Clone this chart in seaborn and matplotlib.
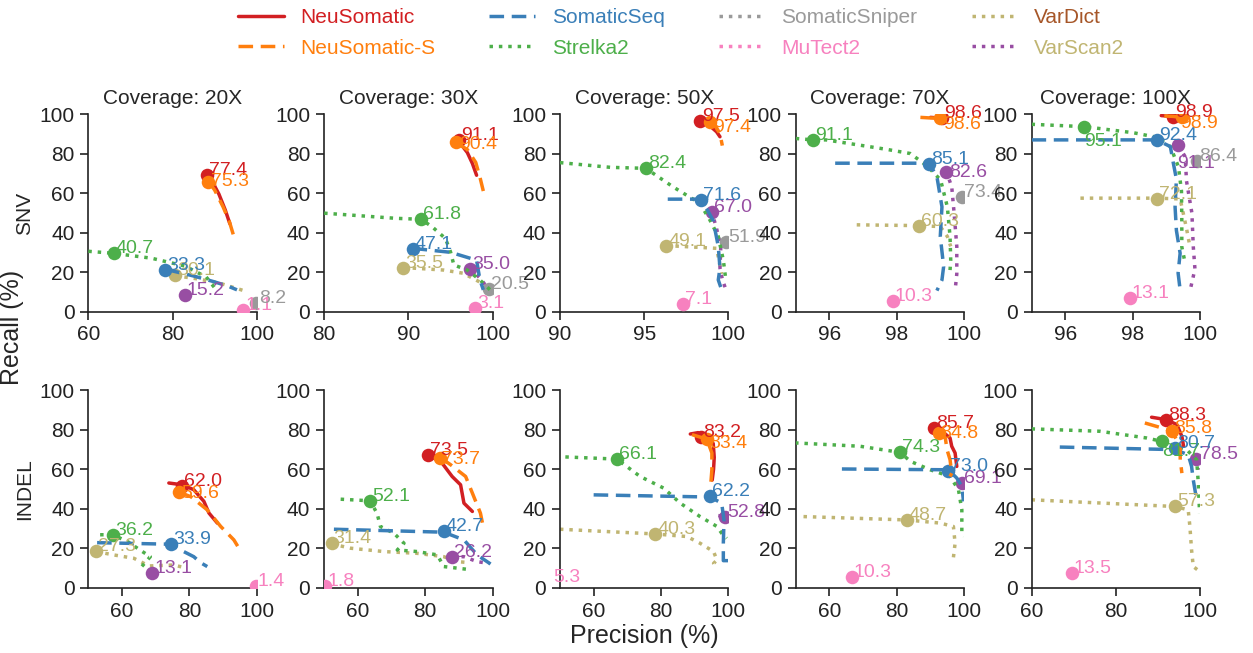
import matplotlib
matplotlib.use("Agg")
import matplotlib.pyplot as plt
from matplotlib.lines import Line2D
import pandas as pd
import seaborn as sns

# ---------------------------------------------------------------- tools
TOOLS = ["NeuSomatic", "NeuSomatic-S", "SomaticSeq", "Strelka2",
         "SomaticSniper", "MuTect2", "VarDict", "VarScan2"]
LINE_COLORS = ["#d21f22", "#ff7f0e", "#3a7fb8", "#4daf4a",
               "#9a9a9a", "#f781bf", "#c0b572", "#984ea3"]
LEGEND_TEXT_COLORS = ["#d21f22", "#ff7f0e", "#3a7fb8", "#4daf4a",
                      "#9a9a9a", "#f781bf", "#a65628", "#c0b572"]
LINE_STYLES = ["solid", "dashed", "dashed", "dotted",
               "dotted", "dotted", "dotted", "dotted"]
DRAW_ORDER = ["VarDict", "VarScan2", "MuTect2", "SomaticSniper",
              "Strelka2", "SomaticSeq", "NeuSomatic", "NeuSomatic-S"]

COVERAGES = ["20X", "30X", "50X", "70X", "100X"]
ROW_NAMES = ["SNV", "INDEL"]

# x ranges and ticks per panel
SNV_XLIM = [(60, 100), (80, 100), (90, 100), (95, 100), (95, 100)]
SNV_XTICKS = [[60, 80, 100], [80, 90, 100], [90, 95, 100], [96, 98, 100], [96, 98, 100]]
INDEL_XLIM = [(50, 100), (50, 100), (50, 100), (50, 100), (60, 100)]
INDEL_XTICKS = [[60, 80, 100]] * 5
YTICKS = [0, 20, 40, 60, 80, 100]

# ------------------------------------------- precision/recall curves (%)
SNV_20X = {
    "NeuSomatic": [(88.2, 69.0), (89.5, 65.5), (91.0, 59.5), (92.5, 51.5), (93.6, 44.5)],
    "NeuSomatic-S": [(88.5, 66.0), (90.0, 61.5), (92.0, 53.0), (93.5, 45.5), (94.7, 37.0)],
    "SomaticSeq": [(78.3, 21.4), (85.0, 18.0), (90.0, 15.0), (93.0, 13.0), (95.3, 11.0)],
    "Strelka2": [(60.0, 30.5), (66.0, 29.5), (75.0, 27.0), (83.0, 23.0), (88.0, 17.5), (90.0, 12.0)],
    "VarDict": [(80.6, 18.2), (86.0, 16.5), (91.0, 14.5), (94.0, 12.5), (96.9, 10.6)],
}
SNV_30X = {
    "NeuSomatic": [(96.0, 86.0), (97.0, 80.5), (97.6, 75.0), (98.1, 69.0)],
    "NeuSomatic-S": [(95.7, 85.5), (97.0, 82.0), (98.0, 75.5), (98.5, 68.0), (98.9, 61.0)],
    "Strelka2": [(80.0, 49.8), (88.5, 47.2), (91.5, 46.7), (92.8, 43.0), (94.4, 37.0), (95.0, 30.3),
                 (95.4, 23.6), (97.0, 21.0), (98.5, 16.0), (99.7, 11.0)],
    "SomaticSeq": [(90.5, 32.0), (95.0, 30.0), (98.1, 26.0), (98.5, 16.0), (98.9, 11.0)],
    "VarDict": [(89.4, 22.3), (94.2, 21.0), (96.5, 19.4), (98.9, 14.0), (99.7, 11.0)],
    "VarScan2": [(97.3, 21.9), (98.5, 17.0), (99.4, 12.0)],
}
SNV_50X = {
    "NeuSomatic": [(98.3, 96.6), (98.9, 94.0), (99.3, 91.0), (99.5, 88.5)],
    "NeuSomatic-S": [(98.9, 96.1), (99.3, 93.0), (99.5, 90.0), (99.64, 84.0)],
    "Strelka2": [(90.0, 75.4), (93.0, 73.0), (95.1, 72.5), (96.7, 63.2), (98.3, 54.8), (98.9, 46.4),
                 (99.4, 38.0), (99.7, 26.0), (99.85, 16.0)],
    "SomaticSeq": [(96.4, 56.9), (98.4, 56.9), (99.1, 46.0), (99.4, 33.0), (99.5, 22.0), (99.4, 16.0),
                   (99.6, 11.0)],
    "VarScan2": [(99.0, 51.1), (99.3, 42.0), (99.55, 33.0), (99.5, 22.0), (99.65, 16.0), (99.9, 10.0)],
    "VarDict": [(96.3, 33.4), (99.3, 32.0), (99.6, 19.0)],
}
SNV_70X = {
    "NeuSomatic": [(99.0, 98.3), (99.34, 97.9), (99.5, 97.6)],
    "NeuSomatic-S": [(98.7, 98.3), (99.0, 98.0), (99.3, 97.9), (99.4, 96.5)],
    "Strelka2": [(95.0, 87.6), (95.52, 86.9), (95.9, 86.9), (97.7, 82.1), (98.4, 80.0), (98.9, 73.7),
                 (99.3, 66.6), (99.5, 53.0), (99.58, 38.0), (99.6, 26.0), (99.58, 21.0)],
    "SomaticSeq": [(96.17, 75.1), (98.96, 75.1), (99.19, 68.3), (99.34, 53.0), (99.29, 38.0),
                   (99.39, 22.8), (99.34, 16.0), (99.19, 10.6)],
    "VarScan2": [(99.46, 71.3), (99.63, 63.2), (99.7, 50.0), (99.78, 33.0), (99.78, 19.0), (99.73, 10.6)],
    "VarDict": [(96.81, 43.9), (98.67, 43.5), (99.29, 43.0), (99.5, 38.0), (99.6, 33.0)],
}
SNV_100X = {
    "NeuSomatic": [(98.85, 99.2), (99.2, 98.7)],
    "NeuSomatic-S": [(98.94, 99.0), (99.2, 98.8), (99.46, 98.3)],
    "Strelka2": [(95.0, 94.8), (96.57, 93.6), (98.03, 90.5), (98.72, 88.2), (99.12, 83.5), (99.36, 73.3),
                 (99.45, 61.0), (99.46, 46.4), (99.46, 32.7), (99.56, 24.5)],
    "SomaticSeq": [(95.0, 86.9), (98.72, 86.9), (99.12, 83.5), (99.21, 75.0), (99.3, 67.0), (99.26, 53.0),
                   (99.3, 41.0), (99.41, 29.5), (99.35, 19.5), (99.41, 11.0)],
    "VarScan2": [(99.36, 84.0), (99.56, 78.4), (99.6, 66.0), (99.76, 49.8), (99.8, 33.0), (99.85, 21.5),
                 (99.71, 11.0)],
    "VarDict": [(96.45, 57.4), (98.72, 57.4), (99.41, 57.0), (99.5, 50.0), (99.6, 42.0), (99.7, 33.0)],
}
INDEL_20X = {
    "NeuSomatic": [(73.9, 53.0), (77.86, 52.1), (81.3, 49.6), (84.3, 43.7), (85.8, 37.8), (88.3, 32.7)],
    "NeuSomatic-S": [(76.9, 48.4), (80.5, 46.0), (85.3, 39.4), (89.3, 31.0), (93.2, 24.2), (94.7, 20.0)],
    "Strelka2": [(53.5, 26.8), (57.3, 26.8), (62.0, 23.0), (65.4, 19.0), (68.4, 15.7), (65.4, 9.8)],
    "SomaticSeq": [(52.6, 22.8), (74.6, 22.0), (78.3, 18.3), (81.3, 15.7), (83.3, 12.7), (85.3, 10.7)],
    "VarDict": [(52.3, 18.3), (57.5, 16.6), (63.5, 14.9), (66.4, 12.4), (68.0, 11.0), (75.4, 11.5),
                (79.3, 9.8)],
}
INDEL_30X = {
    "NeuSomatic": [(80.9, 67.0), (84.6, 64.0), (88.0, 56.3), (90.5, 52.1), (91.5, 42.8), (94.0, 38.6)],
    "NeuSomatic-S": [(84.4, 66.0), (87.5, 62.3), (92.0, 56.3), (94.0, 47.9), (96.4, 37.7), (97.4, 29.3)],
    "Strelka2": [(54.9, 44.8), (63.6, 44.0), (65.7, 37.7), (66.7, 31.0), (70.7, 27.6), (73.7, 22.5),
                 (71.7, 19.1), (77.6, 18.3), (83.6, 16.6), (85.5, 10.7), (92.5, 9.3)],
    "SomaticSeq": [(52.9, 29.6), (85.5, 28.1), (91.5, 24.2), (95.4, 16.6), (99.4, 12.0)],
    "VarDict": [(52.2, 22.2), (57.8, 20.0), (67.7, 18.3), (77.6, 17.4), (85.5, 15.7), (89.5, 13.2),
                (93.0, 12.7)],
    "VarScan2": [(88.0, 15.7), (91.5, 15.7), (95.4, 13.2), (98.9, 12.3)],
}
INDEL_50X = {
    "NeuSomatic": [(88.7, 77.8), (91.0, 78.5), (93.5, 77.0), (95.5, 73.0), (95.8, 66.0), (95.6, 60.0),
                   (95.2, 54.5)],
    "NeuSomatic-S": [(89.2, 77.5), (93.6, 75.2), (95.1, 68.2), (95.1, 59.7), (94.8, 53.0)],
    "Strelka2": [(51.6, 66.2), (66.9, 65.1), (73.8, 56.3), (80.8, 50.4), (85.7, 42.8), (91.6, 36.0),
                 (96.6, 31.0), (98.0, 27.6), (99.5, 25.0)],
    "SomaticSeq": [(60.0, 47.0), (94.6, 45.9), (98.0, 42.8), (98.7, 34.3), (98.5, 22.5), (98.5, 17.4),
                   (98.5, 13.7), (100.0, 13.7)],
    "VarScan2": [(97.0, 36.5), (99.0, 36.0)],
    "VarDict": [(50.0, 29.6), (78.3, 27.2), (87.7, 25.9), (91.6, 22.5), (95.6, 18.3), (96.6, 14.0),
                (95.6, 12.3), (96.0, 11.0)],
}
INDEL_70X = {
    "NeuSomatic": [(91.1, 80.9), (93.4, 79.2), (95.8, 75.8), (96.3, 71.6), (97.3, 68.2), (97.8, 61.4)],
    "NeuSomatic-S": [(92.4, 78.4), (94.4, 75.8), (94.9, 69.9), (95.8, 64.8), (96.3, 58.0), (95.8, 56.3)],
    "Strelka2": [(49.8, 73.3), (69.1, 71.6), (81.0, 68.5), (84.0, 64.0), (89.9, 59.7), (95.8, 56.3),
                 (98.3, 49.6), (99.3, 39.4), (99.3, 27.6), (100.0, 26.0)],
    "SomaticSeq": [(63.7, 60.1), (95.3, 59.7), (97.8, 55.5), (99.3, 51.3), (99.8, 43.7)],
    "VarScan2": [(99.3, 53.0), (99.8, 51.0)],
    "VarDict": [(52.3, 36.0), (83.0, 34.3), (92.9, 32.7), (96.8, 31.0), (97.3, 22.5), (96.6, 12.4)],
}
INDEL_100X = {
    "NeuSomatic": [(88.5, 86.3), (91.9, 85.1), (94.5, 82.6), (95.7, 76.6), (96.1, 71.6)],
    "NeuSomatic-S": [(86.9, 83.4), (93.3, 79.4), (95.3, 71.6), (95.3, 64.8), (95.7, 58.0)],
    "Strelka2": [(60.0, 80.4), (76.2, 79.2), (87.3, 75.8), (90.9, 74.1), (96.8, 69.9), (99.2, 64.8),
                 (99.6, 53.0), (99.9, 37.7)],
    "SomaticSeq": [(66.7, 71.2), (94.1, 69.9), (97.2, 67.3), (98.0, 61.4), (98.4, 54.6), (99.2, 44.5)],
    "VarScan2": [(99.1, 65.1), (99.6, 59.7)],
    "VarDict": [(60.0, 44.5), (94.1, 41.1), (97.2, 39.4), (97.6, 31.0), (98.0, 19.1), (98.4, 10.7),
                (100.0, 8.1)],
}

# ------------------- operating points: (precision %, F1 %) of each caller
SNV_20X_F1 = {"NeuSomatic": (88.2, 77.4), "NeuSomatic-S": (88.5, 75.3), "SomaticSeq": (78.3, 33.3),
              "Strelka2": (66.0, 40.7), "VarDict": (80.6, 30.1), "VarScan2": (82.9, 15.2),
              "SomaticSniper": (99.7, 8.2), "MuTect2": (96.8, 1.1)}
SNV_30X_F1 = {"NeuSomatic": (96.0, 91.1), "NeuSomatic-S": (95.7, 90.4), "SomaticSeq": (90.5, 47.1),
              "Strelka2": (91.5, 61.8), "VarDict": (89.4, 35.5), "VarScan2": (97.3, 35.0),
              "SomaticSniper": (99.6, 20.5), "MuTect2": (97.9, 3.1)}
SNV_50X_F1 = {"NeuSomatic": (98.3, 97.5), "NeuSomatic-S": (98.9, 97.4), "SomaticSeq": (98.4, 71.6),
              "Strelka2": (95.1, 82.4), "VarDict": (96.3, 49.1), "VarScan2": (99.0, 67.0),
              "SomaticSniper": (99.85, 51.9), "MuTect2": (97.3, 7.1)}
SNV_70X_F1 = {"NeuSomatic": (99.34, 98.6), "NeuSomatic-S": (99.29, 98.6), "SomaticSeq": (98.96, 85.1),
              "Strelka2": (95.52, 91.1), "VarDict": (98.67, 60.3), "VarScan2": (99.46, 82.6),
              "SomaticSniper": (99.93, 73.4), "MuTect2": (97.88, 10.3)}
SNV_100X_F1 = {"NeuSomatic": (99.2, 98.9), "NeuSomatic-S": (99.46, 98.9), "SomaticSeq": (98.72, 92.4),
               "Strelka2": (96.57, 95.1), "VarDict": (98.72, 72.1), "VarScan2": (99.36, 91.1),
               "SomaticSniper": (99.91, 86.4), "MuTect2": (97.91, 13.1)}
INDEL_20X_F1 = {"NeuSomatic": (77.86, 62.0), "NeuSomatic-S": (76.9, 59.6), "SomaticSeq": (74.6, 33.9),
                "Strelka2": (57.3, 36.2), "VarDict": (52.3, 27.3), "VarScan2": (68.9, 13.1),
                "MuTect2": (99.7, 1.4)}
INDEL_30X_F1 = {"NeuSomatic": (80.9, 73.5), "NeuSomatic-S": (84.4, 73.7), "SomaticSeq": (85.5, 42.7),
                "Strelka2": (63.6, 52.1), "VarDict": (52.2, 31.4), "VarScan2": (88.0, 26.2),
                "MuTect2": (50.4, 1.8)}
INDEL_50X_F1 = {"NeuSomatic": (91.8, 83.2), "NeuSomatic-S": (93.6, 83.4), "SomaticSeq": (94.6, 62.2),
                "Strelka2": (66.9, 66.1), "VarDict": (78.3, 40.3), "VarScan2": (99.0, 52.8),
                "MuTect2": (47.5, 5.3)}
INDEL_70X_F1 = {"NeuSomatic": (91.1, 85.7), "NeuSomatic-S": (92.4, 84.8), "SomaticSeq": (95.3, 73.0),
                "Strelka2": (81.0, 74.3), "VarDict": (83.0, 48.7), "VarScan2": (99.3, 69.1),
                "MuTect2": (66.6, 10.3)}
INDEL_100X_F1 = {"NeuSomatic": (91.9, 88.3), "NeuSomatic-S": (93.3, 85.8), "SomaticSeq": (94.1, 80.7),
                 "Strelka2": (90.9, 81.7), "VarDict": (94.1, 57.3), "VarScan2": (99.1, 78.5),
                 "MuTect2": (69.5, 13.5)}

CURVES = [[SNV_20X, SNV_30X, SNV_50X, SNV_70X, SNV_100X],
          [INDEL_20X, INDEL_30X, INDEL_50X, INDEL_70X, INDEL_100X]]
POINTS = [[SNV_20X_F1, SNV_30X_F1, SNV_50X_F1, SNV_70X_F1, SNV_100X_F1],
          [INDEL_20X_F1, INDEL_30X_F1, INDEL_50X_F1, INDEL_70X_F1, INDEL_100X_F1]]

# label nudges in pixels (dx, dy, vertical alignment) where labels would collide
LABEL_NUDGE = {
    (0, 0, "NeuSomatic-S"): (3, -4, "baseline"),
    (0, 1, "NeuSomatic-S"): (3, -7, "baseline"),
    (0, 2, "NeuSomatic-S"): (3, -10, "baseline"),
    (0, 3, "NeuSomatic-S"): (3, -11, "baseline"),
    (0, 3, "VarScan2"): (3, -5, "baseline"),
    (0, 4, "NeuSomatic-S"): (-2, -11, "baseline"),
    (0, 4, "Strelka2"): (0, -6, "top"),
    (0, 4, "VarScan2"): (-1, -10, "top"),
    (0, 0, "SomaticSniper"): (4, 0, "baseline"),
    (1, 0, "NeuSomatic-S"): (2, -6, "baseline"),
    (1, 1, "NeuSomatic-S"): (2, -6, "baseline"),
    (1, 2, "NeuSomatic-S"): (2, -9, "baseline"),
    (1, 3, "NeuSomatic-S"): (2, -5, "baseline"),
    (1, 4, "NeuSomatic-S"): (2, -2, "baseline"),
    (1, 4, "Strelka2"): (0, -2, "top"),
    (1, 4, "VarScan2"): (4, 0, "baseline"),
}

# ---------------------------------------------------------------- style
sns.set_theme(style="ticks")
plt.rcParams["font.family"] = ["Liberation Sans", "DejaVu Sans"]
plt.rcParams["axes.edgecolor"] = "#222222"
plt.rcParams["xtick.color"] = "#222222"
plt.rcParams["ytick.color"] = "#222222"

color_of = dict(zip(TOOLS, LINE_COLORS))
style_of = dict(zip(TOOLS, LINE_STYLES))
DASH = {"solid": "-", "dashed": (0, (4.2, 2.2)), "dotted": (0, (1.0, 1.7))}
LW = 2.5

fig, axes = plt.subplots(2, 5, figsize=(12.53, 6.53), dpi=100)
fig.subplots_adjust(left=0.0705, right=0.9577, bottom=0.100, top=0.8254,
                    wspace=0.40, hspace=0.398)


def recall_from(precision, f1):
    return f1 * precision / (2 * precision - f1)


for r in range(2):
    for c in range(5):
        ax = axes[r, c]
        curves = CURVES[r][c]
        points = POINTS[r][c]
        for z, tool in enumerate(DRAW_ORDER):
            col = color_of[tool]
            if tool in curves:
                df = pd.DataFrame(curves[tool], columns=["precision", "recall"])
                sns.lineplot(data=df, x="precision", y="recall", ax=ax, sort=False,
                             estimator=None, color=col, linewidth=LW,
                             linestyle=DASH[style_of[tool]], zorder=2 + z)
            if tool in points:
                p, f1 = points[tool]
                rec = recall_from(p, f1)
                sns.scatterplot(x=[p], y=[rec], ax=ax, color=col, s=95,
                                linewidth=0, zorder=2.5 + z)
        for tool in DRAW_ORDER:
            if tool not in points:
                continue
            p, f1 = points[tool]
            rec = recall_from(p, f1)
            dx, dy, va = LABEL_NUDGE.get((r, c, tool), (2, 0, "baseline"))
            ax.annotate(f"{f1:.1f}", xy=(p, rec), xytext=(dx, dy),
                        textcoords="offset pixels", ha="left", va=va,
                        color=color_of[tool], fontsize=14, zorder=30,
                        annotation_clip=False)

        xlim = SNV_XLIM[c] if r == 0 else INDEL_XLIM[c]
        xt = SNV_XTICKS[c] if r == 0 else INDEL_XTICKS[c]
        ax.set_xlim(*xlim)
        ax.set_ylim(0, 100)
        ax.set_xticks(xt)
        ax.set_yticks(YTICKS)
        ax.set_xlabel("")
        ax.set_ylabel("")
        ax.tick_params(labelsize=15, length=6, width=1.2, pad=4)
        for s in ("left", "bottom"):
            ax.spines[s].set_linewidth(1.2)
        sns.despine(ax=ax)
        if r == 0:
            ax.set_title(f"Coverage: {COVERAGES[c]}", fontsize=15, pad=7)

W, H = 1253, 653
fig.text(25 / W, 1 - 213 / H, ROW_NAMES[0], rotation=90, ha="center", va="center", fontsize=15)
fig.text(25 / W, 1 - 489 / H, ROW_NAMES[1], rotation=90, ha="center", va="center", fontsize=15)
fig.text(12 / W, 1 - 327 / H, "Recall (%)", rotation=90, ha="center", va="center", fontsize=18)
fig.text(644 / W, 1 - 636 / H, "Precision (%)", ha="center", va="center", fontsize=18)

handles = [Line2D([0], [0], color=color_of[t], linewidth=LW, linestyle=DASH[style_of[t]])
           for t in TOOLS]
leg = fig.legend(handles, TOOLS, loc="upper center", bbox_to_anchor=(0.5435, 1.0),
                 ncol=4, frameon=False, fontsize=15, handlelength=2.2,
                 handletextpad=0.8, columnspacing=2.6, labelspacing=0.55,
                 borderaxespad=0.2, borderpad=0.2)
for txt, tc in zip(leg.get_texts(), LEGEND_TEXT_COLORS):
    txt.set_color(tc)

fig.savefig("out.png", dpi=100)
